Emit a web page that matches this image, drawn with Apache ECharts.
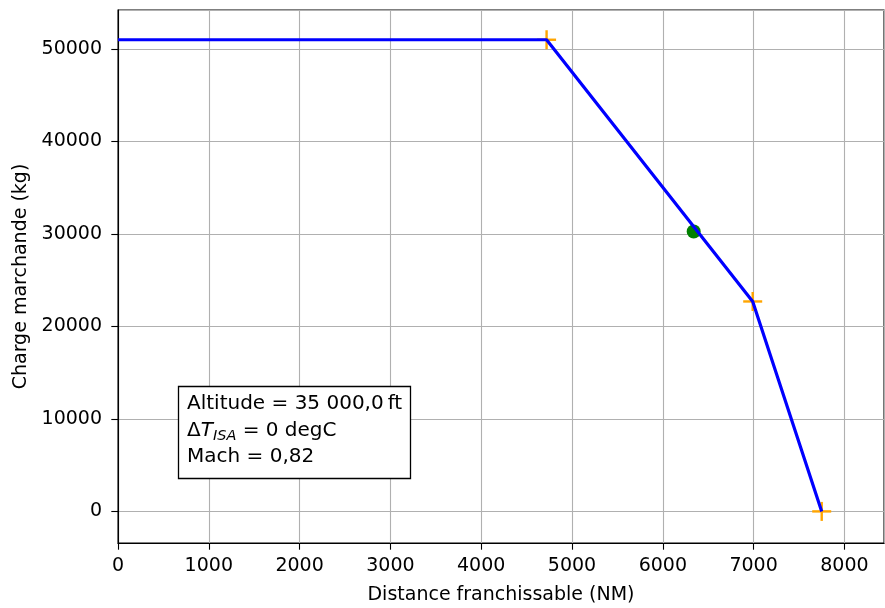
<!DOCTYPE html>
<html>
<head>
<meta charset="utf-8">
<script src="https://cdn.jsdelivr.net/npm/echarts@6/dist/echarts.min.js"></script>
<style>html,body{margin:0;padding:0;background:#fff}#c{width:885px;height:608px}</style>
</head>
<body>
<div id="c"></div>
<script>
// Payload-range curve (NM, kg)
const rangeNM = [0, 4720, 6990, 7750];
const payloadKg = [51000, 51000, 22700, 0];
// Orange "+" markers (corner points)
const cornerRange = [4720, 6990, 7750];
const cornerPayload = [51000, 22700, 0];
// Green design point
const designRange = [6340];
const designPayload = [30270];
// Axis extents
const xExtent = [0, 8436];
const yExtent = [-3416, 54216];
const xTickStep = 1000;
const yTickStep = 10000;
const xTitle = 'Distance franchissable (NM)';
const yTitle = 'Charge marchande (kg)';
const infoLines = ['Altitude = 35 000,0\u2009ft', '\u0394{it|T}{sub|ISA} = 0 degC', 'Mach = 0,82'];

const FONT = 'DejaVu Sans';
const FS = 19;
const zip = (a, b) => a.map((v, i) => [v, b[i]]);

const chart = echarts.init(document.getElementById('c'), null, {renderer: 'canvas'});
const axisCommon = {
  type: 'value',
  nameLocation: 'middle',
  nameTextStyle: {fontFamily: FONT, fontSize: FS, color: '#000'},
  axisLine: {show: true, onZero: false, lineStyle: {color: '#000', width: 1.1}},
  axisTick: {show: true, length: 6.7, lineStyle: {color: '#000', width: 1.1}},
  axisLabel: {fontFamily: FONT, fontSize: FS, color: '#000', showMaxLabel: false, showMinLabel: false, formatter: v => String(Math.round(v))},
  splitLine: {show: true, lineStyle: {color: '#b0b0b0', width: 1.1}}
};
chart.setOption({
  animation: false,
  backgroundColor: '#fff',
  grid: {left: 118, top: 10, width: 766, height: 533, outerBoundsMode: 'none', containLabel: false, show: true, borderColor: '#000', borderWidth: 1.1, backgroundColor: 'transparent'},
  title: {
    left: 178, top: 386,
    text: infoLines.join('\n'),
    backgroundColor: '#fff', borderColor: '#000', borderWidth: 1.3,
    padding: [5, 9, 8, 9],
    textStyle: {
      fontFamily: FONT, fontSize: 20, fontWeight: 'normal', color: '#000', lineHeight: 26.5,
      rich: {
        it: {fontFamily: FONT, fontSize: 20, fontStyle: 'italic', color: '#000', lineHeight: 26.5},
        sub: {fontFamily: FONT, fontSize: 14.5, fontStyle: 'italic', color: '#000', lineHeight: 16, verticalAlign: 'bottom'}
      }
    }
  },
  xAxis: Object.assign({}, axisCommon, {
    min: xExtent[0], max: xExtent[1], minInterval: xTickStep, maxInterval: xTickStep,
    name: xTitle, nameGap: 43,
    axisLabel: Object.assign({}, axisCommon.axisLabel, {margin: 14, showMinLabel: true})
  }),
  yAxis: Object.assign({}, axisCommon, {
    min: yExtent[0], max: yExtent[1], minInterval: yTickStep, maxInterval: yTickStep,
    name: yTitle, nameGap: 86,
    axisLabel: Object.assign({}, axisCommon.axisLabel, {margin: 16})
  }),
  series: [
    {type: 'scatter', data: zip(cornerRange, cornerPayload), symbol: 'rect', symbolSize: [19, 2.4], itemStyle: {color: '#FFA500', opacity: 1}, z: 2, silent: true},
    {type: 'scatter', data: zip(cornerRange, cornerPayload), symbol: 'rect', symbolSize: [2.4, 19], itemStyle: {color: '#FFA500', opacity: 1}, z: 2, silent: true},
    {type: 'scatter', data: zip(designRange, designPayload), symbol: 'circle', symbolSize: 14, itemStyle: {color: '#008000', opacity: 1}, z: 3, silent: true},
    {type: 'line', data: zip(rangeNM, payloadKg), showSymbol: false, lineStyle: {color: '#0000FF', width: 3.2}, itemStyle: {color: '#0000FF'}, z: 4, silent: true}
  ]
});
</script>
</body>
</html>
